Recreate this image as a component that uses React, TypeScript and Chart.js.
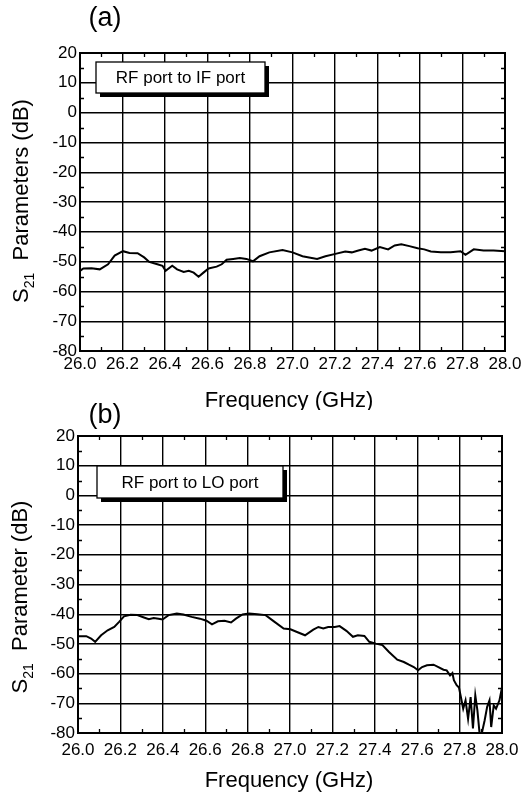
import React, { useEffect, useRef } from "react";
import { Chart, registerables } from "chart.js";

Chart.register(...registerables);

// Panel (a): RF port to IF port
const FREQ_A = [26.0, 26.016, 26.054, 26.093, 26.132, 26.163, 26.202, 26.233, 26.271, 26.302, 26.326, 26.364, 26.388, 26.403, 26.434, 26.457, 26.488, 26.512, 26.535, 26.558, 26.581, 26.605, 26.643, 26.667, 26.69, 26.721, 26.752, 26.783, 26.814, 26.845, 26.891, 26.953, 27.0, 27.047, 27.078, 27.116, 27.155, 27.202, 27.248, 27.279, 27.31, 27.341, 27.372, 27.411, 27.45, 27.481, 27.512, 27.55, 27.589, 27.62, 27.651, 27.698, 27.744, 27.791, 27.814, 27.853, 27.899, 27.946, 28.0];
const S21_A = [-53.1, -52.3, -52.2, -52.6, -50.9, -48.0, -46.5, -47.1, -47.2, -48.6, -50.1, -50.9, -51.4, -53.1, -51.4, -52.6, -53.5, -53.1, -53.7, -55.1, -53.7, -52.3, -51.7, -50.9, -49.4, -49.1, -48.8, -49.1, -49.9, -48.2, -46.9, -46.1, -46.9, -48.2, -48.6, -49.1, -48.2, -47.4, -46.6, -46.9, -46.3, -45.7, -46.3, -45.1, -45.9, -44.6, -44.2, -44.8, -45.5, -45.9, -46.6, -46.9, -46.9, -46.5, -47.7, -45.9, -46.3, -46.3, -46.5];

// Panel (b): RF port to LO port
const FREQ_B = [26.0, 26.039, 26.062, 26.081, 26.109, 26.14, 26.171, 26.194, 26.217, 26.248, 26.28, 26.311, 26.334, 26.357, 26.38, 26.399, 26.427, 26.466, 26.497, 26.536, 26.575, 26.606, 26.632, 26.66, 26.691, 26.722, 26.745, 26.776, 26.807, 26.846, 26.885, 26.924, 26.97, 27.002, 27.033, 27.071, 27.11, 27.134, 27.157, 27.18, 27.211, 27.234, 27.266, 27.297, 27.32, 27.351, 27.374, 27.405, 27.436, 27.467, 27.506, 27.537, 27.561, 27.584, 27.604, 27.623, 27.646, 27.677, 27.7, 27.724, 27.739, 27.755, 27.766, 27.773, 27.786, 27.797, 27.806, 27.817, 27.828, 27.84, 27.852, 27.863, 27.874, 27.884, 27.894, 27.905, 27.918, 27.93, 27.941, 27.949, 27.961, 27.972, 27.988, 28.0];
const S21_B = [-47.4, -47.4, -48.2, -49.3, -47.1, -45.4, -44.3, -42.6, -40.7, -40.2, -40.3, -41.1, -41.7, -41.3, -41.5, -41.8, -40.3, -39.8, -40.1, -40.9, -41.5, -42.2, -43.4, -42.4, -42.2, -42.8, -41.5, -40.1, -39.8, -40.0, -40.3, -42.4, -44.8, -45.1, -46.0, -47.1, -45.2, -44.3, -44.8, -44.3, -44.3, -44.0, -45.6, -47.6, -47.1, -47.3, -49.3, -49.9, -50.4, -52.7, -55.3, -56.1, -57.0, -57.8, -58.9, -57.8, -57.2, -57.0, -57.8, -58.7, -58.9, -60.6, -59.8, -62.2, -63.9, -64.7, -67.9, -71.8, -69.0, -75.2, -67.9, -78.5, -67.3, -72.4, -80.0, -80.0, -75.8, -71.2, -69.0, -78.0, -70.7, -71.8, -69.0, -64.7];

const X_MIN = 26.0;
const X_MAX = 28.0;
const X_STEP = 0.2;
const Y_MIN = -80;
const Y_MAX = 20;
const Y_STEP = 10;

const FONT = "'Liberation Sans', Arial, Helvetica, sans-serif";

type PanelCfg = {
  id: string;
  height: number;
  padTop: number;
  padRight: number;
  yW: number;
  xH: number;
  xTickPad: number;
  panel: string;
  panelX: number;
  panelY: number;
  xTitle: string;
  xTitleX: number;
  xTitleY: number;
  yTitleRest: string;
  yTitleX: number;
  yTitleY: number;
  legend: string;
  legBox: [number, number, number, number];
};

function makeDecor(o: PanelCfg) {
  return {
    id: "decor_" + o.id,
    afterDraw(chart: any) {
      const ctx = chart.ctx as CanvasRenderingContext2D;
      const a = chart.chartArea;
      const xs = chart.scales.x;
      const ys = chart.scales.y;
      ctx.save();
      ctx.strokeStyle = "#000";
      ctx.fillStyle = "#000";
      // frame
      ctx.lineWidth = 2;
      ctx.strokeRect(a.left, a.top, a.right - a.left, a.bottom - a.top);
      // minor ticks
      ctx.lineWidth = 1.3;
      ctx.beginPath();
      for (let f = X_MIN + X_STEP / 2; f < X_MAX; f += X_STEP) {
        const px = Math.round(xs.getPixelForValue(f)) + 0.5;
        ctx.moveTo(px, a.top);
        ctx.lineTo(px, a.top + 4);
        ctx.moveTo(px, a.bottom);
        ctx.lineTo(px, a.bottom - 4);
      }
      for (let v = Y_MIN + Y_STEP / 2; v < Y_MAX; v += Y_STEP) {
        const py = Math.round(ys.getPixelForValue(v)) + 0.5;
        ctx.moveTo(a.left, py);
        ctx.lineTo(a.left + 4, py);
        ctx.moveTo(a.right, py);
        ctx.lineTo(a.right - 4, py);
      }
      ctx.stroke();
      // legend box with shadow
      const [bx, by, bw, bh] = o.legBox;
      ctx.fillStyle = "#000";
      ctx.fillRect(bx + 4, by + 4, bw, bh);
      ctx.fillStyle = "#fff";
      ctx.fillRect(bx, by, bw, bh);
      ctx.lineWidth = 1.3;
      ctx.strokeRect(bx, by, bw, bh);
      ctx.fillStyle = "#000";
      ctx.font = `17px ${FONT}`;
      ctx.textAlign = "center";
      ctx.textBaseline = "middle";
      ctx.fillText(o.legend, bx + bw / 2, by + bh / 2 + 1);
      // panel label
      ctx.font = `27px ${FONT}`;
      ctx.fillText(o.panel, o.panelX, o.panelY);
      // x title
      ctx.font = `22px ${FONT}`;
      ctx.fillText(o.xTitle, o.xTitleX, o.xTitleY);
      // y title (rotated) with subscript
      ctx.translate(o.yTitleX, o.yTitleY);
      ctx.rotate(-Math.PI / 2);
      ctx.textAlign = "left";
      ctx.textBaseline = "alphabetic";
      ctx.font = `22px ${FONT}`;
      const wS = ctx.measureText("S").width;
      const wRest = ctx.measureText(o.yTitleRest).width;
      ctx.font = `14px ${FONT}`;
      const wSub = ctx.measureText("21").width;
      const total = wS + wSub + wRest;
      let x0 = -total / 2;
      const base = 8;
      ctx.font = `22px ${FONT}`;
      ctx.fillText("S", x0, base);
      x0 += wS;
      ctx.font = `14px ${FONT}`;
      ctx.fillText("21", x0, base + 6);
      x0 += wSub;
      ctx.font = `22px ${FONT}`;
      ctx.fillText(o.yTitleRest, x0, base);
      ctx.restore();
    },
  };
}

function buildConfig(freq: number[], vals: number[], o: PanelCfg): any {
  const tickFont = { family: FONT, size: 17 };
  return {
    type: "line",
    data: {
      datasets: [
        {
          data: freq.map((f, i) => ({ x: f, y: vals[i] })),
          borderColor: "#000",
          borderWidth: 2,
          pointRadius: 0,
          tension: 0,
          fill: false,
        },
      ],
    },
    options: {
      animation: false,
      responsive: false,
      events: [],
      layout: { padding: { left: 0, right: o.padRight, top: o.padTop, bottom: 0 } },
      plugins: { legend: { display: false }, tooltip: { enabled: false }, title: { display: false } },
      scales: {
        x: {
          type: "linear",
          min: X_MIN,
          max: X_MAX,
          ticks: {
            stepSize: X_STEP,
            autoSkip: false,
            maxRotation: 0,
            color: "#000",
            font: tickFont,
            padding: o.xTickPad,
            callback: (v: any) => Number(v).toFixed(1),
          },
          grid: { color: "#000", lineWidth: 1.4, drawTicks: false },
          border: { color: "#000", width: 2 },
          afterFit: (s: any) => {
            s.height = o.xH;
          },
        },
        y: {
          type: "linear",
          min: Y_MIN,
          max: Y_MAX,
          ticks: {
            stepSize: Y_STEP,
            color: "#000",
            font: tickFont,
            padding: 3,
            callback: (v: any) => String(Math.round(Number(v))),
          },
          grid: { color: "#000", lineWidth: 1.4, drawTicks: false },
          border: { color: "#000", width: 2 },
          afterFit: (s: any) => {
            s.width = o.yW;
          },
        },
      },
    },
    plugins: [makeDecor(o)],
  };
}

const PANEL_A: PanelCfg = {
  id: "a",
  height: 410,
  padTop: 53,
  padRight: 24,
  yW: 80,
  xH: 59,
  xTickPad: 3,
  panel: "(a)",
  panelX: 105,
  panelY: 19,
  xTitle: "Frequency (GHz)",
  xTitleX: 289,
  xTitleY: 401,
  yTitleRest: "  Parameters (dB)",
  yTitleX: 20,
  yTitleY: 201,
  legend: "RF port to IF port",
  legBox: [96, 62, 169, 31],
};

const PANEL_B: PanelCfg = {
  id: "b",
  height: 397,
  padTop: 36,
  padRight: 27,
  yW: 78,
  xH: 64,
  xTickPad: 7,
  panel: "(b)",
  panelX: 105,
  panelY: 16,
  xTitle: "Frequency (GHz)",
  xTitleX: 289,
  xTitleY: 381,
  yTitleRest: "  Parameter (dB)",
  yTitleX: 19,
  yTitleY: 197,
  legend: "RF port to LO port",
  legBox: [97, 66, 186, 32],
};

function Panel({ freq, vals, cfg, top }: { freq: number[]; vals: number[]; cfg: PanelCfg; top: number }) {
  const ref = useRef<HTMLCanvasElement | null>(null);
  useEffect(() => {
    if (!ref.current) return;
    const chart = new Chart(ref.current, buildConfig(freq, vals, cfg));
    return () => chart.destroy();
  }, [freq, vals, cfg]);
  return (
    <canvas
      ref={ref}
      width={529}
      height={cfg.height}
      style={{ position: "absolute", left: 0, top, width: 529, height: cfg.height }}
    />
  );
}

export default function App() {
  return (
    <div style={{ position: "fixed", left: 0, top: 0, width: 529, height: 797, background: "#fff" }}>
      <Panel freq={FREQ_A} vals={S21_A} cfg={PANEL_A} top={0} />
      <Panel freq={FREQ_B} vals={S21_B} cfg={PANEL_B} top={400} />
    </div>
  );
}
